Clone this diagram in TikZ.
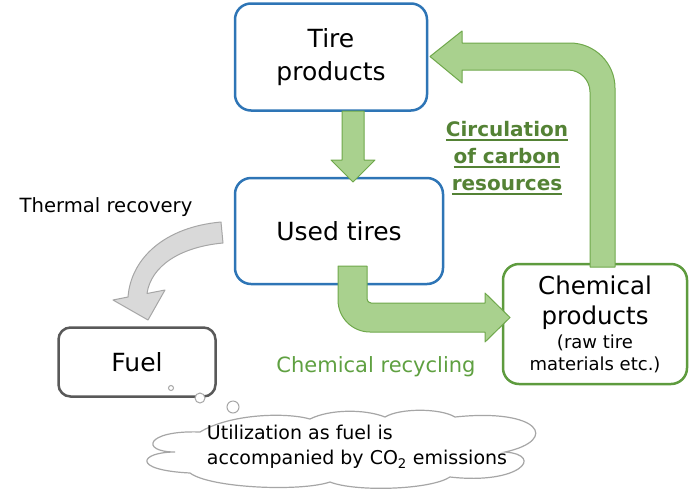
\documentclass[tikz,border=0pt]{standalone}
\usepackage{fontspec}
\setmainfont{DejaVu Sans}
\usetikzlibrary{positioning}

\definecolor{boxblue}{HTML}{2E75B6}
\definecolor{boxgreen}{HTML}{5E9B3E}
\definecolor{pilfill}{HTML}{A9D18E}
\definecolor{pilline}{HTML}{6FA84B}
\definecolor{textgreen}{HTML}{548235}
\definecolor{recgreen}{HTML}{5FA041}
\definecolor{fuelgray}{HTML}{595959}
\definecolor{grayfill}{HTML}{D9D9D9}
\definecolor{grayline}{HTML}{A6A6A6}

\newsavebox\ulbox
\newcommand{\thickul}[1]{\sbox\ulbox{#1}\rlap{\usebox\ulbox}\rule[-4pt]{\wd\ulbox}{1.6pt}}
\newcommand{\lille}{\fontsize{18}{22}\selectfont}

\begin{document}
\begin{tikzpicture}[x=1pt, y=-1pt]

\tikzstyle{kasse}=[rectangle, rounded corners=16pt, line width=2.5pt, fill=white, align=center, inner sep=0pt]
\tikzstyle{stor}=[font=\fontsize{25}{33}\selectfont]
\tikzstyle{pil}=[fill=pilfill, draw=pilline, line width=1pt, line join=round]
\tikzstyle{graapil}=[fill=grayfill, draw=grayline, line width=1pt, line join=round]
\tikzstyle{boble}=[circle, draw=grayline, fill=white, line width=1pt, inner sep=0pt]

\useasboundingbox (0,0) rectangle (690,488);

\node[kasse, stor, draw=boxblue, minimum width=192pt, minimum height=107pt] (tire) at (331,57) {Tire\\products};
\node[kasse, stor, draw=boxblue, minimum width=208pt, minimum height=106pt] (used) at (339,231) {Used tires};
\node[kasse, draw=boxgreen, minimum width=184pt, minimum height=120pt, font=\fontsize{24.5}{30}\selectfont] (chem) at (595,324)
  {Chemical\\products\\[-6pt]{\lille (raw tire}\\[-8pt]{\lille materials etc.)}};
\node[kasse, stor, draw=fuelgray, rounded corners=12pt, minimum width=157pt, minimum height=69pt] (fuel) at (137,362) {Fuel};

% thought bubbles
\node[boble, minimum size=5pt] (bubA) at (171,388) {};
\node[boble, minimum size=10pt] (bubB) at (200,398) {};
\node[boble, minimum size=12pt] (bubC) at (233,407) {};
\draw[draw=grayline, fill=white, line width=1.2pt] (175,452)
  .. controls (140,452) and (145,430) .. (200,432)
  .. controls (230,414) and (285,412) .. (310,419)
  .. controls (330,409) and (365,409) .. (385,417)
  .. controls (400,408) and (440,408) .. (455,417)
  .. controls (540,408) and (560,440) .. (505,452)
  .. controls (545,455) and (520,485) .. (450,477)
  .. controls (430,490) and (355,492) .. (330,482)
  .. controls (300,492) and (210,488) .. (190,473)
  .. controls (130,470) and (140,452) .. (175,452) -- cycle;
\node[align=left, font=\fontsize{19}{25}\selectfont] (notetext) at (357,447) {Utilization as fuel is\\accompanied by CO\textsubscript{2} emissions};

% labels
\node[font=\fontsize{19.6}{22}\selectfont] (thermal) at (106,207) {Thermal recovery};
\node[font=\fontsize{21}{22}\selectfont, text=recgreen] (recyc) at (376,367) {Chemical recycling};
\node[font=\bfseries\fontsize{20}{27}\selectfont, text=textgreen, align=center] (circ) at (507,158)
  {\thickul{Circulation}\\\thickul{of carbon}\\\thickul{resources}};

% block arrows
\draw[pil] (342,111) -- (342,160) -- (331,160) -- (353,182) -- (375,160) -- (364,160) -- (364,111) -- cycle;

\draw[pil] (338,266) -- (338,300) .. controls (338,317.7) and (352.3,332) .. (370,332) -- (485,332) -- (485,342)
  -- (510,317.5) -- (485,293) -- (485,303) -- (371,303) .. controls (369,303) and (367,301) .. (367,299) -- (367,266) -- cycle;

\draw[pil] (615,267) -- (615,88) .. controls (615,63.2) and (594.8,43) .. (570,43) -- (462,43) -- (462,31)
  -- (430,56.5) -- (462,83) -- (462,70) -- (568,70) .. controls (580.1,70) and (590,79.9) .. (590,92) -- (590,267) -- cycle;

\draw[graapil] (221,222) .. controls (165,227) and (131,258) .. (128,297) -- (113,300) -- (148,320) -- (165,290)
  -- (147,293.5) .. controls (151,266) and (180,247) .. (223,243) -- cycle;

\end{tikzpicture}
\end{document}
